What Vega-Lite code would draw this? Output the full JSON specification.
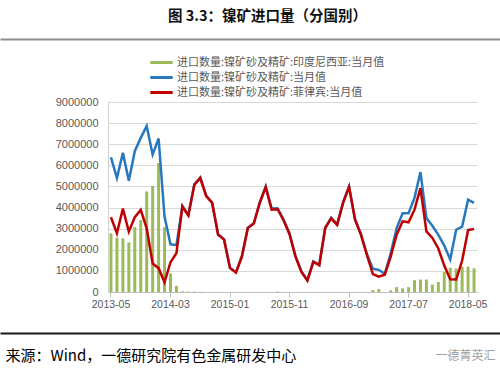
{
  "$schema": "https://vega.github.io/schema/vega-lite/v6.json",
  "width": 369,
  "height": 190,
  "autosize": "none",
  "padding": {"left": 108, "top": 102, "right": 23, "bottom": 90},
  "background": "white",
  "config": {"view": {"stroke": null}, "font": "Liberation Sans"},
  "title": {
    "text": "图 3.3：镍矿进口量（分国别）",
    "anchor": "middle",
    "frame": "group",
    "dx": -25,
    "offset": 7,
    "baseline": "middle",
    "font": "Noto Sans CJK SC",
    "fontSize": 14.5,
    "fontWeight": "bold",
    "color": "#111111"
  },
  "data": {
    "values": [
      {"m": "2013-05", "indo": 2780000, "total": 6380000, "phil": 3540000},
      {"m": "2013-06", "indo": 2570000, "total": 5400000, "phil": 2780000},
      {"m": "2013-07", "indo": 2540000, "total": 6590000, "phil": 3950000},
      {"m": "2013-08", "indo": 2350000, "total": 5270000, "phil": 2860000},
      {"m": "2013-09", "indo": 3070000, "total": 6670000, "phil": 3540000},
      {"m": "2013-10", "indo": 3400000, "total": 7300000, "phil": 3890000},
      {"m": "2013-11", "indo": 4760000, "total": 7860000, "phil": 3020000},
      {"m": "2013-12", "indo": 5020000, "total": 6510000, "phil": 1350000},
      {"m": "2014-01", "indo": 6110000, "total": 7270000, "phil": 1130000},
      {"m": "2014-02", "indo": 3070000, "total": 3570000, "phil": 460000},
      {"m": "2014-03", "indo": 880000, "total": 2260000, "phil": 1410000},
      {"m": "2014-04", "indo": 290000, "total": 2220000, "phil": 1840000},
      {"m": "2014-05", "indo": 30000, "total": 4080000, "phil": 4050000},
      {"m": "2014-06", "indo": 20000, "total": 3650000, "phil": 3620000},
      {"m": "2014-07", "indo": 20000, "total": 5100000, "phil": 5070000},
      {"m": "2014-08", "indo": 10000, "total": 5420000, "phil": 5400000},
      {"m": "2014-09", "indo": 0, "total": 4560000, "phil": 4540000},
      {"m": "2014-10", "indo": 0, "total": 4240000, "phil": 4220000},
      {"m": "2014-11", "indo": 0, "total": 2730000, "phil": 2710000},
      {"m": "2014-12", "indo": 0, "total": 2500000, "phil": 2480000},
      {"m": "2015-01", "indo": 0, "total": 1150000, "phil": 1130000},
      {"m": "2015-02", "indo": 0, "total": 940000, "phil": 920000},
      {"m": "2015-03", "indo": 0, "total": 1700000, "phil": 1680000},
      {"m": "2015-04", "indo": 0, "total": 3050000, "phil": 3030000},
      {"m": "2015-05", "indo": 0, "total": 3260000, "phil": 3240000},
      {"m": "2015-06", "indo": 0, "total": 4240000, "phil": 4220000},
      {"m": "2015-07", "indo": 0, "total": 4990000, "phil": 4970000},
      {"m": "2015-08", "indo": 0, "total": 3950000, "phil": 3900000},
      {"m": "2015-09", "indo": 20000, "total": 3970000, "phil": 3920000},
      {"m": "2015-10", "indo": 0, "total": 3420000, "phil": 3400000},
      {"m": "2015-11", "indo": 0, "total": 2770000, "phil": 2740000},
      {"m": "2015-12", "indo": 0, "total": 1700000, "phil": 1680000},
      {"m": "2016-01", "indo": 0, "total": 970000, "phil": 950000},
      {"m": "2016-02", "indo": 0, "total": 560000, "phil": 540000},
      {"m": "2016-03", "indo": 0, "total": 1450000, "phil": 1430000},
      {"m": "2016-04", "indo": 0, "total": 1290000, "phil": 1270000},
      {"m": "2016-05", "indo": 0, "total": 3050000, "phil": 3030000},
      {"m": "2016-06", "indo": 0, "total": 3510000, "phil": 3490000},
      {"m": "2016-07", "indo": 0, "total": 3200000, "phil": 3180000},
      {"m": "2016-08", "indo": 0, "total": 4240000, "phil": 4220000},
      {"m": "2016-09", "indo": 0, "total": 5000000, "phil": 4980000},
      {"m": "2016-10", "indo": 0, "total": 3460000, "phil": 3430000},
      {"m": "2016-11", "indo": 0, "total": 2750000, "phil": 2710000},
      {"m": "2016-12", "indo": 0, "total": 1800000, "phil": 1760000},
      {"m": "2017-01", "indo": 90000, "total": 1100000, "phil": 850000},
      {"m": "2017-02", "indo": 140000, "total": 1050000, "phil": 730000},
      {"m": "2017-03", "indo": 0, "total": 860000, "phil": 820000},
      {"m": "2017-04", "indo": 80000, "total": 1830000, "phil": 1680000},
      {"m": "2017-05", "indo": 230000, "total": 3030000, "phil": 2710000},
      {"m": "2017-06", "indo": 170000, "total": 3730000, "phil": 3350000},
      {"m": "2017-07", "indo": 230000, "total": 3730000, "phil": 3300000},
      {"m": "2017-08", "indo": 560000, "total": 4460000, "phil": 3900000},
      {"m": "2017-09", "indo": 590000, "total": 5680000, "phil": 4920000},
      {"m": "2017-10", "indo": 590000, "total": 3510000, "phil": 2870000},
      {"m": "2017-11", "indo": 350000, "total": 3140000, "phil": 2560000},
      {"m": "2017-12", "indo": 480000, "total": 2710000, "phil": 2060000},
      {"m": "2018-01", "indo": 950000, "total": 2200000, "phil": 1250000},
      {"m": "2018-02", "indo": 1150000, "total": 1540000, "phil": 600000},
      {"m": "2018-03", "indo": 1110000, "total": 2950000, "phil": 590000},
      {"m": "2018-04", "indo": 1200000, "total": 3100000, "phil": 1480000},
      {"m": "2018-05", "indo": 1200000, "total": 4370000, "phil": 2930000},
      {"m": "2018-06", "indo": 1120000, "total": 4220000, "phil": 2980000}
    ]
  },
  "layer": [
    {
      "transform": [{"fold": ["indo", "total", "phil"], "as": ["series", "value"]}],
      "encoding": {
        "x": {
          "field": "m",
          "type": "ordinal",
          "scale": {"type": "band", "paddingInner": 0, "paddingOuter": 0},
          "axis": {
            "values": ["2013-05", "2014-03", "2015-01", "2015-11", "2016-09", "2017-07", "2018-05"],
            "labelAngle": 0,
            "labelFontSize": 10.5,
            "labelColor": "#595959",
            "labelFont": "Liberation Sans",
            "labelPadding": 2,
            "tickSize": 5,
            "tickColor": "#bfbfbf",
            "domainColor": "#bfbfbf",
            "grid": false,
            "title": "来源：Wind，一德研究院有色金属研发中心",
            "titleX": -103,
            "titleY": 63,
            "titleAlign": "left",
            "titleAnchor": "start",
            "titleBaseline": "middle",
            "titleFont": "Noto Sans CJK SC",
            "titleFontSize": 15,
            "titleFontWeight": "normal",
            "titleColor": "#000000"
          }
        },
        "y": {
          "field": "value",
          "type": "quantitative",
          "scale": {"domain": [0, 9000000], "nice": false},
          "axis": {
            "values": [0, 1000000, 2000000, 3000000, 4000000, 5000000, 6000000, 7000000, 8000000, 9000000],
            "format": "d",
            "ticks": false,
            "labelPadding": 10,
            "labelFontSize": 11,
            "labelColor": "#595959",
            "labelFont": "Liberation Sans",
            "gridColor": "#d9d9d9",
            "domainColor": "#d0d0d0",
            "title": null
          }
        },
        "color": {
          "field": "series",
          "type": "nominal",
          "scale": {"domain": ["indo", "total", "phil"], "range": ["#9bbb59", "#2878bd", "#c00000"]},
          "legend": {
            "title": null,
            "orient": "none",
            "legendX": 45,
            "legendY": -48,
            "direction": "vertical",
            "symbolType": "M-1.6,0H1.6",
            "symbolSize": 196,
            "symbolStrokeWidth": 3,
            "rowPadding": -1,
            "labelOffset": 7,
            "labelFont": "Noto Sans CJK SC",
            "labelFontSize": 11,
            "labelColor": "#595959",
            "labelLimit": 400,
            "labelExpr": "datum.value === 'indo' ? '进口数量:镍矿砂及精矿:印度尼西亚:当月值' : datum.value === 'total' ? '进口数量:镍矿砂及精矿:当月值' : '进口数量:镍矿砂及精矿:菲律宾:当月值'"
          }
        }
      },
      "layer": [
        {
          "transform": [{"filter": "datum.series === 'indo'"}],
          "mark": {"type": "bar", "width": {"band": 0.5}},
          "encoding": {"color": {"value": "#9bbb59"}}
        },
        {
          "transform": [{"filter": "datum.series === 'total'"}],
          "mark": {"type": "line", "strokeWidth": 2.5}
        },
        {
          "transform": [{"filter": "datum.series === 'phil'"}],
          "mark": {"type": "line", "strokeWidth": 2.5}
        }
      ]
    },
    {
      "data": {"values": [{}]},
      "mark": {"type": "point", "opacity": 0},
      "encoding": {
        "y": {
          "datum": 0,
          "type": "quantitative",
          "scale": {"domain": [0, 1], "range": [231, -63.5], "nice": false, "zero": false},
          "axis": {
            "orient": "right",
            "offset": -477,
            "values": [0, 1],
            "tickSize": 500,
            "tickWidth": 2,
            "tickColor": {"condition": {"test": "datum.value === 1", "value": "#8c8c8c"}, "value": "#1a1a1a"},
            "labels": false,
            "domain": false,
            "grid": false,
            "title": "一德菁英汇",
            "titleAngle": 0,
            "titleX": 435,
            "titleY": 253,
            "titleAlign": "left",
            "titleBaseline": "middle",
            "titleColor": "#a0a0a0",
            "titleFont": "Noto Sans CJK SC",
            "titleFontSize": 12,
            "titleFontWeight": "normal"
          }
        }
      }
    }
  ],
  "resolve": {"scale": {"y": "independent"}, "axis": {"y": "independent"}}
}
